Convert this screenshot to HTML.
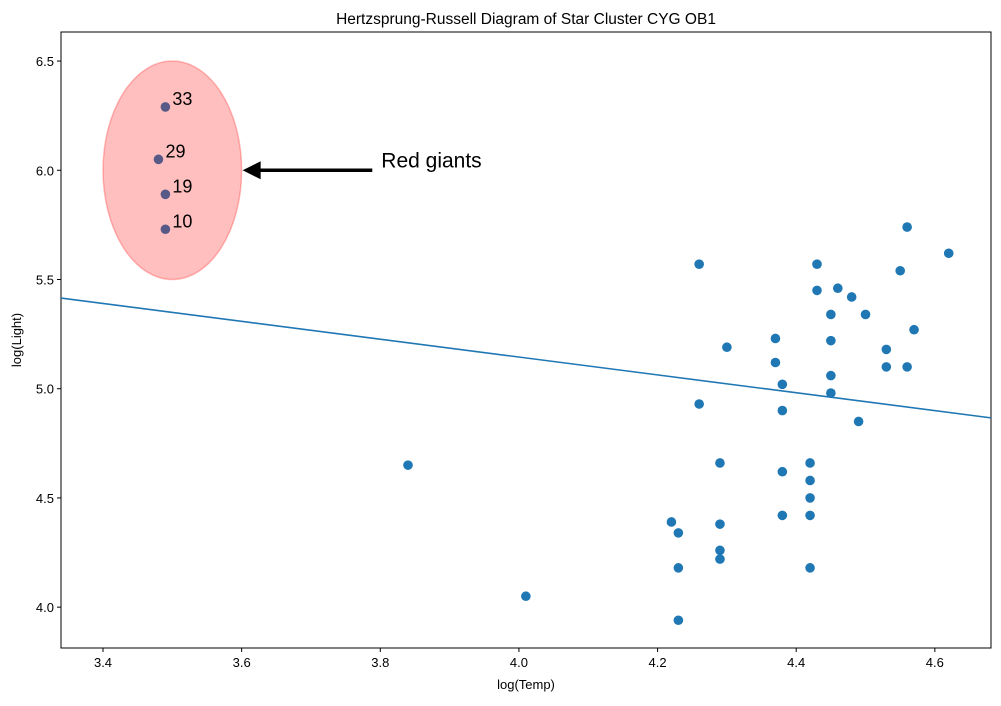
<!DOCTYPE html>
<html><head><meta charset="utf-8"><style>
body{margin:0;background:#fff;}
svg text{font-family:"Liberation Sans","DejaVu Sans",sans-serif;}
</style></head><body>
<svg id="chart" width="1001" height="701" xmlns="http://www.w3.org/2000/svg"></svg>
<script>
const temps=[3.49,3.48,3.49,3.49,4.26,4.56,4.62,4.55,4.43,4.43,4.46,4.48,4.45,4.50,4.57,4.37,4.45,4.30,4.53,4.37,4.53,4.56,4.45,4.38,4.45,4.26,4.38,4.49,3.84,4.29,4.42,4.38,4.42,4.42,4.38,4.42,4.22,4.29,4.23,4.29,4.29,4.23,4.42,4.01,4.23];
const lights=[6.29,6.05,5.89,5.73,5.57,5.74,5.62,5.54,5.57,5.45,5.46,5.42,5.34,5.34,5.27,5.23,5.22,5.19,5.18,5.12,5.10,5.10,5.06,5.02,4.98,4.93,4.90,4.85,4.65,4.66,4.66,4.62,4.58,4.50,4.42,4.42,4.39,4.38,4.34,4.26,4.22,4.18,4.18,4.05,3.94];
const giantIdx=[0,1,2,3];
const giantLabels=["33","29","19","10"];
const xTicks=[3.4,3.6,3.8,4.0,4.2,4.4,4.6];
const yTicks=[4.0,4.5,5.0,5.5,6.0,6.5];
const fitSlope=-0.409, fitIntercept=6.781;
const L=61,R=991,T=32,B=648;
const X0=3.3394,X1=4.681,Y0=3.813,Y1=6.633;
const sx=v=>L+(v-X0)/(X1-X0)*(R-L);
const sy=v=>B-(v-Y0)/(Y1-Y0)*(B-T);
const svg=document.getElementById('chart');
const NS='http://www.w3.org/2000/svg';
function mk(t,a,p){const e=document.createElementNS(NS,t);for(const k in a)e.setAttribute(k,a[k]);(p||svg).appendChild(e);return e;}
let e=mk('rect',{x:L,y:T,width:R-L,height:B-T,fill:'none',stroke:'#000','stroke-width':1});


xTicks.forEach(v=>{
 const x=sx(v);
 let t=mk('line',{x1:x,x2:x,y1:B,y2:B+4,stroke:'#000'});
 
 
 let l=mk('text',{x:x,y:B+19,'font-size':13,'text-anchor':'middle'});l.textContent=v.toFixed(1);
 
 
});
yTicks.forEach(v=>{
 const y=sy(v);
 let t=mk('line',{x1:L-4,x2:L,y1:y,y2:y,stroke:'#000'});
 
 
 let l=mk('text',{x:L-7,y:y+5,'font-size':13,'text-anchor':'end'});l.textContent=v.toFixed(1);
 
 
});
e=mk('line',{x1:sx(X0),y1:sy(fitIntercept+fitSlope*X0),x2:sx(X1),y2:sy(fitIntercept+fitSlope*X1),stroke:'#1f77b4','stroke-width':1.6});


temps.forEach((t,i)=>{
 let c=mk('circle',{cx:sx(t),cy:sy(lights[i]),r:4.8,fill:'#1f77b4'});
 
 
});
e=mk('ellipse',{cx:sx(3.5),cy:sy(6.0),rx:(sx(3.6)-sx(3.4))/2,ry:(sy(5.5)-sy(6.5))/2,fill:'rgba(255,0,0,0.25)',stroke:'rgba(255,0,0,0.25)','stroke-width':1.5});


giantIdx.forEach((i,k)=>{
 let l=mk('text',{x:sx(temps[i])+7,y:sy(lights[i])-2,'font-size':18});l.textContent=giantLabels[k];
 
 
});
e=mk('line',{x1:sx(3.8)-8,y1:sy(6.0),x2:sx(3.6)+16,y2:sy(6.0),stroke:'#000','stroke-width':3.5});


const ax=sx(3.6)+1,ay=sy(6.0);
e=mk('polygon',{points:`${ax},${ay} ${ax+18},${ay-9} ${ax+18},${ay+9}`,fill:'#000'});


e=mk('text',{x:sx(3.8)+1,y:sy(6.0)-3,'font-size':21});e.textContent='Red giants';


e=mk('text',{x:(L+R)/2,y:24,'font-size':15.5,'text-anchor':'middle'});e.textContent='Hertzsprung-Russell Diagram of Star Cluster CYG OB1';


e=mk('text',{x:(L+R)/2,y:689,'font-size':13,'text-anchor':'middle'});e.textContent='log(Temp)';


e=mk('text',{x:21,y:(T+B)/2,'font-size':13,'text-anchor':'middle',transform:`rotate(-90 21 ${(T+B)/2})`});e.textContent='log(Light)';


</script>
</body></html>
